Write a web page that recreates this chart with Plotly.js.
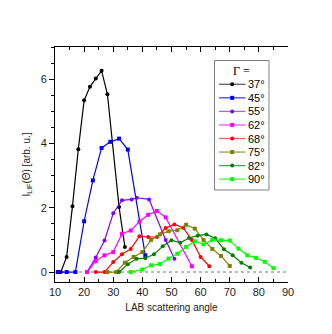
<!DOCTYPE html>
<html><head><meta charset="utf-8">
<script src="https://cdn.plot.ly/plotly-3.0.1.min.js"></script>
<style>html,body{margin:0;padding:0;background:#fff}#chart{width:332px;height:334px}</style>
</head><body><div id="chart"></div>
<script>
// Series labels (Gamma)
const seriesNames = ['37°','45°','55°','62°','68°','75°','82°','90°'];
// Data: LAB scattering angle (x) and I_LIF (y)
const x37 = [12,14,16,18,20,22,24,26,28,32,34];
const y37 = [0,0.47,2.05,3.82,5.34,5.76,6.02,6.26,5.53,2.02,0.78];
const x45 = [11,14,17,20,23,26,29,32,35,41];
const y45 = [0,0,0,1.58,2.85,3.86,4.05,4.15,3.81,0.52];
const x55 = [21,24,27,30,33,36.3,38.1,42.3,48,51];
const y55 = [0,0.45,0.98,1.83,2.23,2.26,2.31,2.26,1.0,0.41];
const x62 = [21,24,27,30,33,36,39,42,45,48,57];
const y62 = [0,0.34,0.52,0.62,1.19,1.29,1.57,1.78,1.9,1.7,0.18];
const x68 = [24,27,30,33,36,39,42,45,48,51,54,57,60,63];
const y68 = [0,0,0.31,0.55,0.72,1.11,1.09,1.09,1.37,1.48,1.38,1.0,0.47,0.18];
const x75 = [28,31,34,37,40,43,46,49,52,55,58,61,64,67,70];
const y75 = [0,0,0.29,0.47,0.62,1.0,1.17,1.27,1.3,1.47,1.35,1.0,0.72,0.5,0.19];
const x82 = [32,35,38,41,44,47,50,53,56,59,62,65,68,71,74,77];
const y82 = [0,0.24,0.41,0.43,0.55,0.8,0.99,0.91,1.06,1.13,1.17,1.05,0.71,0.52,0.29,0.14];
const x90 = [36,40,43,46,49,52,55,58,61,64,67,70,73,76,79,82,85];
const y90 = [0,0.08,0.21,0.25,0.42,0.57,0.78,0.96,0.86,1.0,0.99,0.98,0.73,0.52,0.44,0.32,0.12];

const colors = ['#000000','#0000ff','#8000ff','#ff00ff','#ff0000','#808000','#008000','#00ff00'];
const legendLineColors = ['#606060','#4040ff','#a860ff','#ff50ff','#ff6060','#a0a040','#50a050','#40ff40'];
const symbols = ['circle','square','circle','square','circle','square','circle','square'];
const X = [x37,x45,x55,x62,x68,x75,x82,x90];
const Y = [y37,y45,y55,y62,y68,y75,y82,y90];

const traces = X.map((x,i)=>({
  type:'scatter', mode:'lines+markers', x:x, y:Y[i], name:seriesNames[i],
  line:{color:colors[i], width:1.2},
  marker:{symbol:symbols[i], size:4, color:colors[i]},
  showlegend:false, hoverinfo:'skip'
}));

// Layout geometry
const L=55, T=47, W=233, H=235;
const px2x = p => (p-L)/W;
const py2y = p => (T+H-p)/H;

const shapes = [
  {type:'line', xref:'paper', yref:'y', x0:0, x1:1, y0:0, y1:0, layer:'below',
   line:{color:'#777', width:1, dash:'dot'}},
  {type:'rect', xref:'paper', yref:'paper', x0:px2x(214.5), x1:px2x(269), y0:py2y(190), y1:py2y(60.5),
   line:{color:'#808080', width:1}, fillcolor:'#ffffff'}
];
const annotations = [
  {xref:'paper', yref:'paper', x:px2x(241.5), y:py2y(71), xanchor:'center', yanchor:'middle',
   text:'Γ =', showarrow:false, font:{family:'Liberation Serif, Times New Roman, serif', size:12, color:'#000'}}
];
seriesNames.forEach((n,i)=>{
  const cy = 84.3 + i*13.55;
  shapes.push({type:'line', xref:'paper', yref:'paper', x0:px2x(219), x1:px2x(245.5), y0:py2y(cy), y1:py2y(cy),
    line:{color:legendLineColors[i], width:1.3}});
  shapes.push({type:(symbols[i]==='circle'?'circle':'rect'), xref:'paper', yref:'paper',
    xsizemode:'pixel', ysizemode:'pixel', xanchor:px2x(232.2), yanchor:py2y(cy),
    x0:-2, x1:2, y0:-2, y1:2, fillcolor:colors[i], line:{width:0}});
  annotations.push({xref:'paper', yref:'paper', x:px2x(246), y:py2y(cy), xanchor:'left', yanchor:'middle',
    text:n, showarrow:false, font:{size:11, color:'#000'}});
});

const layout = {
  width:332, height:334,
  margin:{l:L, r:332-L-W, t:T, b:334-T-H, pad:0},
  paper_bgcolor:'#fff', plot_bgcolor:'#fff',
  font:{family:'Liberation Sans, Arial, sans-serif', size:11, color:'#222'},
  showlegend:false,
  xaxis:{range:[10,90], tick0:10, dtick:10, ticks:'inside', ticklen:5, tickwidth:1, tickcolor:'#000',
    minor:{dtick:5, ticks:'inside', ticklen:3, tickcolor:'#000'},
    showline:true, linecolor:'#000', linewidth:1, mirror:'allticks', showgrid:false, zeroline:false,
    tickfont:{size:11, color:'#222'},
    title:{text:'LAB scattering angle', font:{size:10, color:'#222'}, standoff:6}},
  yaxis:{range:[-0.31,7], tick0:0, dtick:2, ticks:'outside', ticklen:5, tickwidth:1, tickcolor:'#000',
    minor:{dtick:0.5, ticks:'outside', ticklen:3, tickcolor:'#000'},
    showline:true, linecolor:'#000', linewidth:1, mirror:false, showgrid:false, zeroline:false,
    tickfont:{size:11, color:'#222'},
    title:{text:'I<sub>LIF</sub>(Θ) [arb. u.]', font:{size:10, color:'#222'}, standoff:8}},
  yaxis2:{overlaying:'y', side:'right', range:[-0.31,7], tick0:0, dtick:2, ticks:'inside', ticklen:5, tickcolor:'#000',
    minor:{dtick:0.5, ticks:'inside', ticklen:3, tickcolor:'#000'},
    showticklabels:false, showline:true, linecolor:'#000', linewidth:1, showgrid:false, zeroline:false},
  shapes:shapes, annotations:annotations
};
Plotly.newPlot('chart', traces, layout, {staticPlot:true, displayModeBar:false});
</script></body></html>
